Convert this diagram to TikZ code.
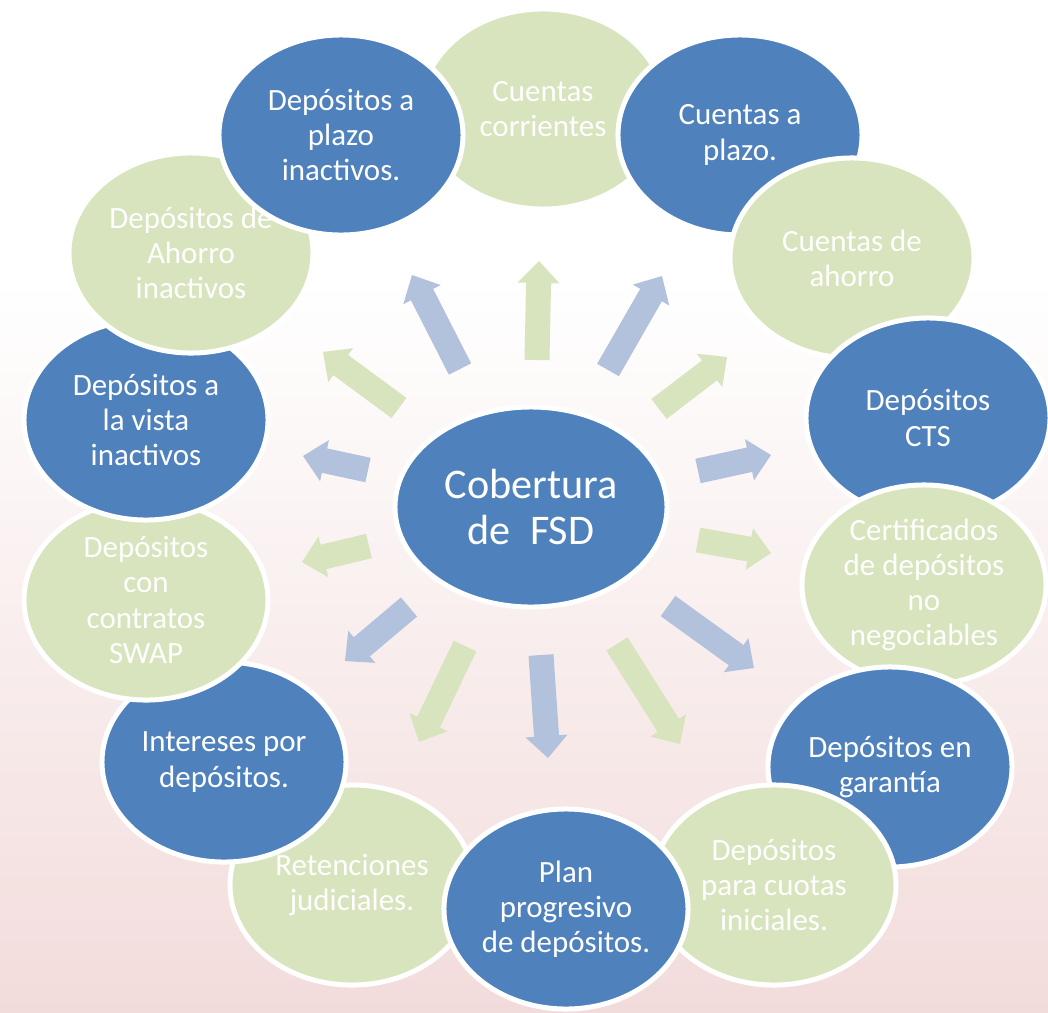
\documentclass[tikz,border=0pt]{standalone}
\usepackage{fontspec}
\setmainfont{Carlito}
\usepackage{tikz}
\definecolor{fsdblue}{HTML}{4F81BD}
\definecolor{fsdgreen}{HTML}{D7E4BD}
\definecolor{arrowblue}{HTML}{B3C2DC}
\definecolor{bgpink}{HTML}{F2DCDB}
\usetikzlibrary{shapes.geometric, calc}

% block arrow: #1 colour, #2 tail, #3 tip
\newcommand{\blockarrow}[3]{%
  \fill[#1] ($(#2)!0.3125cm!90:(#3)$)
    -- ($(#3)!0.55cm!(#2)!0.3125cm!-90:(#2)$)
    -- ($(#3)!0.55cm!(#2)!0.525cm!-90:(#2)$)
    -- (#3)
    -- ($(#3)!0.55cm!(#2)!0.525cm!90:(#2)$)
    -- ($(#3)!0.55cm!(#2)!0.3125cm!90:(#2)$)
    -- ($(#2)!0.3125cm!-90:(#3)$) -- cycle;}

\begin{document}
\begin{tikzpicture}[x=0.025cm, y=-0.025cm,
    blue disc/.style={ellipse, fill=fsdblue, draw=white, line width=0.125cm,
      minimum width=6.1cm, minimum height=5cm, inner sep=0pt},
    green disc/.style={blue disc, fill=fsdgreen},
    disc text/.style={text=white, align=center, inner sep=0pt,
      font=\fontsize{22}{25}\selectfont}]
	\useasboundingbox (0,0) rectangle (1048,1013);
	\fill [white] (0,0) rectangle (1048,1013);
	\shade [top color=white, bottom color=bgpink] (0,280) rectangle (1048,1013);

	% arrows, clockwise from the top
	\coordinate (tail1) at (537,360);   \coordinate (tip1) at (539,261);
	\coordinate (tail2) at (608,370);   \coordinate (tip2) at (662,276);
	\coordinate (tail3) at (659,409);   \coordinate (tip3) at (727,357);
	\coordinate (tail4) at (698,471);   \coordinate (tip4) at (771,455);
	\coordinate (tail5) at (698,540);   \coordinate (tip5) at (771,553);
	\coordinate (tail6) at (668,606);   \coordinate (tip6) at (754,668);
	\coordinate (tail7) at (617,644);   \coordinate (tip7) at (680,744);
	\coordinate (tail8) at (541,655);   \coordinate (tip8) at (548,758);
	\coordinate (tail9) at (465,646);   \coordinate (tip9) at (419,742);
	\coordinate (tail10) at (409,607);  \coordinate (tip10) at (345,661);
	\coordinate (tail11) at (369,546);  \coordinate (tip11) at (302,562);
	\coordinate (tail12) at (368,470);  \coordinate (tip12) at (303,456);
	\coordinate (tail13) at (399,408);  \coordinate (tip13) at (323,352);
	\coordinate (tail14) at (460,369);  \coordinate (tip14) at (412,275);
	\blockarrow{fsdgreen}{tail1}{tip1}
	\blockarrow{arrowblue}{tail2}{tip2}
	\blockarrow{fsdgreen}{tail3}{tip3}
	\blockarrow{arrowblue}{tail4}{tip4}
	\blockarrow{fsdgreen}{tail5}{tip5}
	\blockarrow{arrowblue}{tail6}{tip6}
	\blockarrow{fsdgreen}{tail7}{tip7}
	\blockarrow{arrowblue}{tail8}{tip8}
	\blockarrow{fsdgreen}{tail9}{tip9}
	\blockarrow{arrowblue}{tail10}{tip10}
	\blockarrow{fsdgreen}{tail11}{tip11}
	\blockarrow{arrowblue}{tail12}{tip12}
	\blockarrow{fsdgreen}{tail13}{tip13}
	\blockarrow{arrowblue}{tail14}{tip14}

	% centre
	\node [blue disc, minimum width=6.8cm] (fsd) at (531,507) {};

	% ring, in stacking order
	\node [green disc] (corrientes) at (543,109) {};
	\node [green disc] (retenciones) at (352,885) {};
	\node [blue disc] (plazo) at (740,135) {};
	\node [green disc] (ahorro) at (852,258) {};
	\node [blue disc] (cts) at (928,418) {};
	\node [green disc] (certificados) at (924,585) {};
	\node [blue disc] (garantia) at (890,767) {};
	\node [green disc] (cuotas) at (774,885) {};
	\node [blue disc] (plan) at (566,909) {};
	\node [blue disc] (intereses) at (224,762) {};
	\node [green disc] (swap) at (146,600) {};
	\node [blue disc] (vista) at (146,420) {};
	\node [green disc] (ahorroinact) at (191,253) {};
	\node [blue disc] (plazoinact) at (341,135) {};

	% texts on top of everything
	\node [disc text, font=\fontsize{30}{33}\selectfont] (fsd-txt) at (fsd) {Cobertura\\de\ \ FSD};
	\node [disc text] (corrientes-txt) at (corrientes) {Cuentas\\corrientes};
	\node [disc text] (plazo-txt) at (plazo) {Cuentas a\\plazo.};
	\node [disc text] (ahorro-txt) at (ahorro) {Cuentas de\\ahorro};
	\node [disc text] (cts-txt) at (cts) {Depósitos\\CTS};
	\node [disc text] (certificados-txt) at (certificados) {Certificados\\de depósitos\\no\\negociables};
	\node [disc text] (garantia-txt) at (garantia) {Depósitos en\\garantía};
	\node [disc text] (cuotas-txt) at (cuotas) {Depósitos\\para cuotas\\iniciales.};
	\node [disc text] (plan-txt) at (plan) {Plan\\progresivo\\de depósitos.};
	\node [disc text] (retenciones-txt) at (retenciones) {Retenciones\\judiciales.};
	\node [disc text] (intereses-txt) at (intereses) {Intereses por\\depósitos.};
	\node [disc text] (swap-txt) at (swap) {Depósitos\\con\\contratos\\SWAP};
	\node [disc text] (vista-txt) at (vista) {Depósitos a\\la vista\\inactivos};
	\node [disc text] (ahorroinact-txt) at (ahorroinact) {Depósitos de\\Ahorro\\inactivos};
	\node [disc text] (plazoinact-txt) at (plazoinact) {Depósitos a\\plazo\\inactivos.};
\end{tikzpicture}
\end{document}
